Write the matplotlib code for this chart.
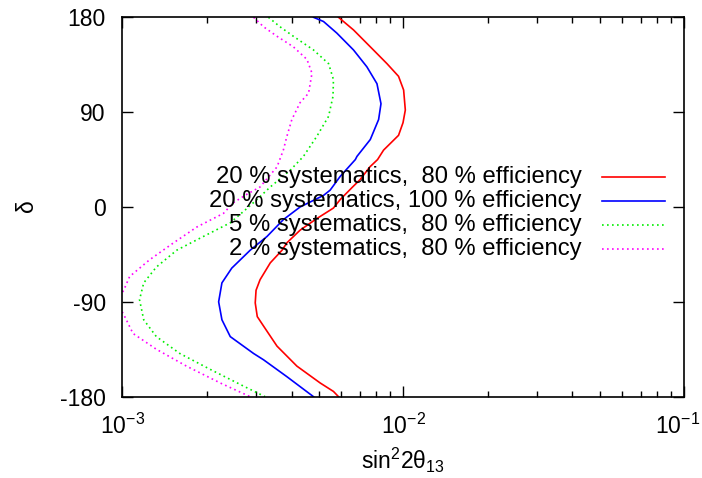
import matplotlib
matplotlib.use("Agg")
import matplotlib.pyplot as plt
from matplotlib.ticker import FixedLocator, LogLocator, NullFormatter
from matplotlib.lines import Line2D
from matplotlib.transforms import ScaledTranslation

plt.rcParams['font.family'] = ['Liberation Sans', 'DejaVu Sans']
plt.rcParams['mathtext.default'] = 'regular'
plt.rcParams['mathtext.fontset'] = 'custom'
plt.rcParams['mathtext.rm'] = 'Liberation Sans'
plt.rcParams['mathtext.it'] = 'Liberation Sans'

FS = 16.5
FS_LEG = 17.2

# --- data (delta in degrees, sin^2 2theta13) ---
red_delta = [180, 168, 149, 136, 124, 111, 92, 80, 68, 54, 45, 38, 26, 19, 7, -1, -11, -22, -34,
             -41, -53, -69, -79, -91, -104, -113, -132, -151, -167, -175, -180]
red_s2t = [0.00588, 0.00665, 0.00783, 0.00875, 0.00962, 0.01003, 0.01017, 0.00998, 0.00962, 0.00851,
           0.00810, 0.00760, 0.00702, 0.00660, 0.00596, 0.00564, 0.00492, 0.00429, 0.00385,
           0.00370, 0.00336, 0.00309, 0.00299, 0.00297, 0.00302, 0.00318, 0.00355, 0.00418,
           0.00506, 0.00564, 0.00588]

blue_delta = [180, 176, 165, 149, 133, 117, 98, 83, 64, 48, 45, 29, 16, 11, 0, -12, -28, -41, -58,
              -72, -90, -107, -123, -139, -145, -161, -180]
blue_s2t = [0.00479, 0.00520, 0.00580, 0.00665, 0.00742, 0.00806, 0.00833, 0.00817, 0.00763, 0.00684,
            0.00675, 0.00596, 0.00549, 0.00520, 0.00429, 0.00374, 0.00327, 0.00285, 0.00245,
            0.00226, 0.00220, 0.00226, 0.00242, 0.00293, 0.00318, 0.00385, 0.00479]

green_delta = [180, 171, 162, 149, 136, 121, 105, 86, 67, 48, 35, 19, 7, -3, -15, -28, -41, -57,
               -72, -88, -107, -123, -139, -154, -170, -180]
green_s2t = [0.00331, 0.00364, 0.00406, 0.00479, 0.00542, 0.00564, 0.00562, 0.00542, 0.00492, 0.00441,
             0.00396, 0.00336, 0.00301, 0.00273, 0.00242, 0.00194, 0.00156, 0.00132,
             0.00119, 0.00115, 0.00119, 0.00132, 0.00160, 0.00205, 0.00270, 0.00322]

mag_delta = [180, 171, 162, 152, 140, 127, 108, 99, 83, 67, 54, 38, 19, 12, 4, -6, -19, -34, -50,
             -66, -79, -90, -102, -120, -135, -151, -167, -180]
mag_s2t = [0.00293, 0.00318, 0.00355, 0.00406, 0.00454, 0.00473, 0.00460, 0.00429, 0.00401, 0.00385,
           0.00374, 0.00355, 0.00309, 0.00277, 0.00248, 0.00229, 0.00184, 0.00152, 0.00125,
           0.00106, 0.00101, 0.00095, 0.00101, 0.00109, 0.00132, 0.00169, 0.00223, 0.00285]

labels = ["20 % systematics,  80 % efficiency",
          "20 % systematics, 100 % efficiency",
          "5 % systematics,  80 % efficiency",
          "2 % systematics,  80 % efficiency"]
colors = ["#ff0000", "#0000ff", "#00ee00", "#ff00ff"]
styles = ["-", "-", (0, (1, 2)), (0, (1, 2))]

y_ticks = [-180, -90, 0, 90, 180]
x_ticks = [1e-3, 1e-2, 1e-1]
x_ticklabels = [r"$10^{-3}$", r"$10^{-2}$", r"$10^{-1}$"]

fig = plt.figure(figsize=(7.02, 4.78), dpi=100)
ax = fig.add_axes([0.1745, 0.1701, 0.7999, 0.7937])

series = [(red_s2t, red_delta), (blue_s2t, blue_delta), (green_s2t, green_delta), (mag_s2t, mag_delta)]
for (xs, ys), c, ls in zip(series, colors, styles):
    ax.plot(xs, ys, color=c, linestyle=ls, linewidth=1.2, clip_on=True)

ax.set_xscale('log')
ax.set_xlim(1e-3, 1e-1)
ax.set_ylim(-180, 180)

ax.xaxis.set_major_locator(FixedLocator(x_ticks))
ax.set_xticklabels(x_ticklabels)
ax.xaxis.set_minor_locator(LogLocator(base=10, subs=range(2, 10)))
ax.xaxis.set_minor_formatter(NullFormatter())
ax.set_yticks(y_ticks)
ax.set_yticklabels([str(v) for v in y_ticks])

ax.tick_params(axis='both', which='major', direction='in', length=8, width=1,
               top=True, right=True, labelsize=FS)
ax.tick_params(axis='x', which='minor', direction='in', length=4, width=1, top=True)
ax.tick_params(axis='x', which='major', pad=12)
ax.tick_params(axis='y', which='major', pad=12)
for sp in ax.spines.values():
    sp.set_linewidth(1.2)

# last x tick label nudged left so it fits inside the figure (as in the reference)
last = ax.get_xticklabels()[-1]
last.set_transform(last.get_transform() + ScaledTranslation(-6 / 100, 0, fig.dpi_scale_trans))

ax.set_xlabel(r"sin$^{2}$2$\theta_{13}$", fontsize=FS, labelpad=5)
ax.set_ylabel(r"$\delta$", fontsize=FS, labelpad=15)

# legend, gnuplot style: right-aligned text with sample line on the right
rows_y = [0.5799, 0.5158, 0.4526, 0.3893]
for lab, c, ls, yy in zip(labels, colors, styles, rows_y):
    ax.text(0.8178, yy, lab, transform=ax.transAxes, ha='right', va='center', fontsize=FS_LEG)
    ax.add_line(Line2D([0.8534, 0.9662], [yy, yy], transform=ax.transAxes,
                       color=c, linestyle=ls, linewidth=1.2))

fig.savefig("out.png", dpi=100)
